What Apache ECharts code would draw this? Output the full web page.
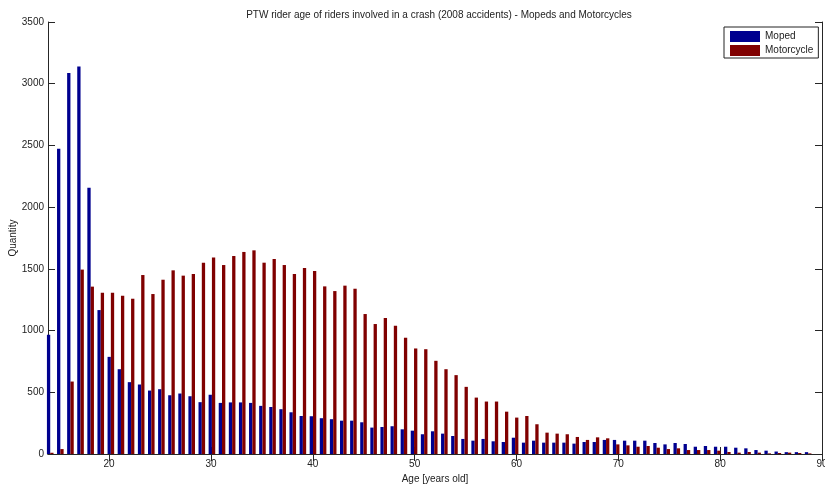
<!DOCTYPE html>
<html>
<head>
<meta charset="utf-8">
<title>PTW rider age</title>
<script src="https://cdn.jsdelivr.net/npm/echarts@6/dist/echarts.min.js"></script>
<style>
  html, body { margin: 0; padding: 0; background: #fff; }
  #chart { width: 825px; height: 486px; }
</style>
</head>
<body>
<div id="chart"></div>
<script>
// ages 14..89
var ages = [14, 15, 16, 17, 18, 19, 20, 21, 22, 23, 24, 25, 26, 27, 28, 29, 30, 31, 32, 33,
  34, 35, 36, 37, 38, 39, 40, 41, 42, 43, 44, 45, 46, 47, 48, 49, 50, 51, 52, 53,
  54, 55, 56, 57, 58, 59, 60, 61, 62, 63, 64, 65, 66, 67, 68, 69, 70, 71, 72, 73,
  74, 75, 76, 77, 78, 79, 80, 81, 82, 83, 84, 85, 86, 87, 88, 89]

var moped = [966, 2473, 3087, 3139, 2157, 1166, 787, 687, 582, 563, 514, 525, 476, 490, 468, 420, 480, 414, 418, 418,
  414, 390, 381, 363, 338, 308, 306, 290, 282, 270, 270, 257, 214, 219, 225, 200, 189, 160, 184, 165,
  146, 122, 108, 122, 103, 97, 132, 92, 108, 92, 92, 92, 84, 97, 97, 114, 114, 108, 108, 108,
  89, 78, 89, 81, 59, 65, 59, 59, 51, 46, 32, 27, 20, 15, 15, 15]

var motorcycle = [10, 40, 587, 1494, 1356, 1307, 1307, 1282, 1258, 1450, 1296, 1412, 1488, 1445, 1458, 1550, 1593, 1531, 1604, 1637,
  1650, 1550, 1580, 1531, 1458, 1507, 1483, 1358, 1320, 1364, 1339, 1134, 1053, 1101, 1039, 942, 855, 849, 755, 687,
  639, 544, 457, 425, 425, 343, 295, 308, 241, 173, 165, 160, 138, 114, 135, 127, 78, 70, 59, 65,
  51, 40, 46, 32, 32, 32, 27, 16, 11, 16, 11, 5, 8, 11, 8, 5]

var seriesNames = ['Moped', 'Motorcycle']
var xTicks = [20, 30, 40, 50, 60, 70, 80, 90]

var chart = echarts.init(document.getElementById('chart'))

var font = 'Liberation Sans, Arial, sans-serif'
var axisColor = '#262626'
var textColor = '#222'

function pairs(vals) {
  return ages.map(function (a, i) { return [a, vals[i]] })
}

var frameAxis = {
  type: 'value',
  min: 14,
  max: 90,
  axisLine: { lineStyle: { color: axisColor, width: 1 } },
  axisTick: { inside: true, length: 7, customValues: xTicks, lineStyle: { color: axisColor } },
  splitLine: { show: false }
}

var frameY = {
  type: 'value',
  min: 0,
  max: 3500,
  interval: 500,
  axisLine: { show: true, lineStyle: { color: axisColor } },
  axisTick: { show: true, inside: true, length: 7, lineStyle: { color: axisColor } },
  splitLine: { show: false }
}

var option = {
  animation: false,
  color: ['#00008F', '#800000'],
  title: {
    text: 'PTW rider age of riders involved in a crash (2008 accidents) - Mopeds and Motorcycles',
    left: 434,
    textAlign: 'center',
    top: 5,
    textStyle: { fontFamily: font, fontSize: 10, fontWeight: 'normal', color: textColor }
  },
  legend: {
    data: seriesNames,
    orient: 'vertical',
    left: 724,
    top: 27,
    icon: 'rect',
    itemWidth: 30,
    itemHeight: 11,
    itemGap: 3,
    padding: [4, 5, 2, 6],
    borderColor: '#222',
    borderWidth: 1,
    backgroundColor: '#fff',
    textStyle: { fontFamily: font, fontSize: 10, color: textColor }
  },
  grid: { left: 48, right: 3, top: 22, bottom: 32, outerBoundsMode: 'none' },
  xAxis: [
    Object.assign({}, frameAxis, {
      position: 'bottom',
      name: 'Age [years old]',
      nameLocation: 'middle',
      nameGap: 18,
      nameTextStyle: { fontFamily: font, fontSize: 10, color: textColor },
      axisLabel: { customValues: xTicks, margin: 5, fontFamily: font, fontSize: 10, color: textColor }
    }),
    Object.assign({}, frameAxis, {
      position: 'top',
      axisLabel: { show: false }
    }),
    { type: 'value', min: 13.78, max: 90.37, show: false }
  ],
  yAxis: [
    Object.assign({}, frameY, {
      position: 'left',
      name: 'Quantity',
      nameLocation: 'middle',
      nameGap: 30,
      nameMoveOverlap: false,
      nameTextStyle: { fontFamily: font, fontSize: 10, color: textColor },
      axisLabel: {
        margin: 4, fontFamily: font, fontSize: 10, color: textColor,
        formatter: function (v) { return String(v) }
      }
    }),
    Object.assign({}, frameY, {
      position: 'right',
      axisLabel: { show: false }
    })
  ],
  series: [
    {
      name: seriesNames[0],
      type: 'bar',
      xAxisIndex: 2,
      yAxisIndex: 0,
      barWidth: 3.3,
      barGap: '0%',
      data: pairs(moped)
    },
    {
      name: seriesNames[1],
      type: 'bar',
      xAxisIndex: 2,
      yAxisIndex: 0,
      barWidth: 3.3,
      barGap: '0%',
      data: pairs(motorcycle)
    }
  ]
}

chart.setOption(option)
</script>
</body>
</html>
